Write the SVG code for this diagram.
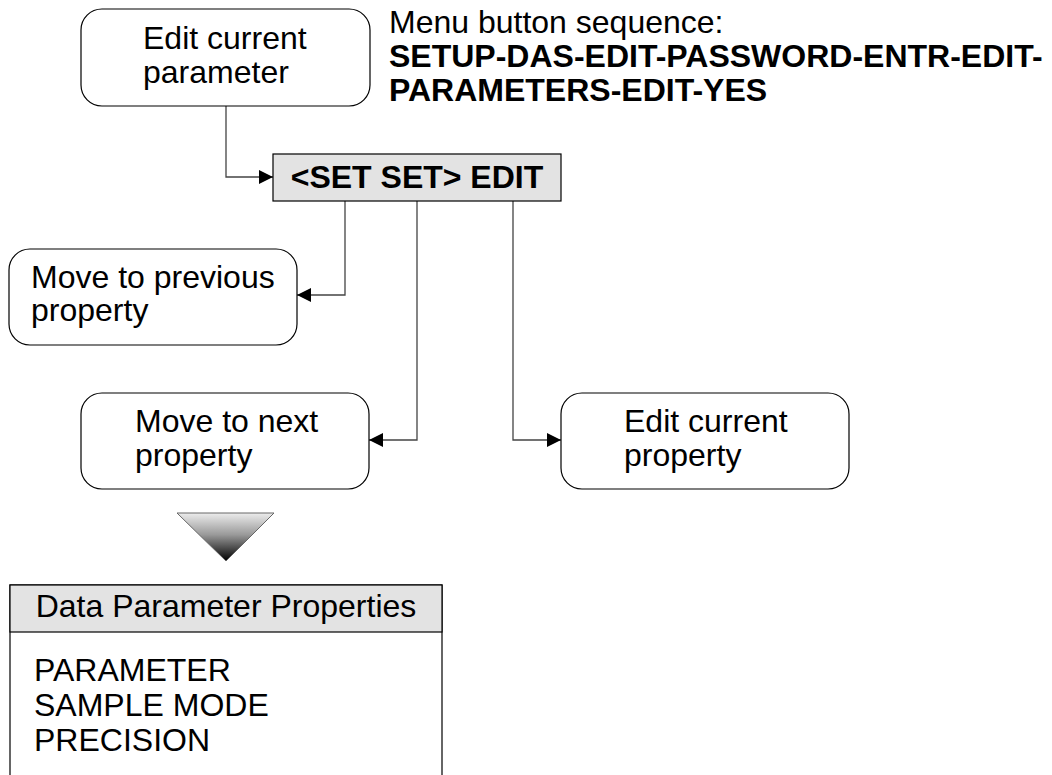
<svg xmlns="http://www.w3.org/2000/svg" width="1052" height="775" viewBox="0 0 1052 775">
<style>
text{font-family:"Liberation Sans",Arial,sans-serif;font-size:32px;fill:#000}
.b{font-weight:bold}
.node{fill:#fff;stroke:#000;stroke-width:1.2}
.gray{fill:#e3e3e3;stroke:#000;stroke-width:1.2}
.conn{fill:none;stroke:#444;stroke-width:1.3}
</style>
<defs>
<marker id="arr" viewBox="0 0 14 14" refX="14" refY="7" markerWidth="14" markerHeight="14" markerUnits="userSpaceOnUse" orient="auto">
<path d="M0,0 L14,7 L0,14 Z" fill="#000"/>
</marker>
<linearGradient id="tri" x1="0" y1="0" x2="0" y2="1">
<stop offset="0" stop-color="#ececec"/>
<stop offset="0.45" stop-color="#9a9a9a"/>
<stop offset="1" stop-color="#000"/>
</linearGradient>
</defs>
<rect width="1052" height="775" fill="#fff"/>

<g id="connectors">
<path class="conn" d="M226,106 V177 H273" marker-end="url(#arr)"/>
<path class="conn" d="M345,201 V295 H297" marker-end="url(#arr)"/>
<path class="conn" d="M417,201 V440 H369" marker-end="url(#arr)"/>
<path class="conn" d="M513,201 V440 H561" marker-end="url(#arr)"/>
</g>

<g id="edit-parameter">
<rect class="node" x="81" y="9" width="289" height="97" rx="21"/>
<text x="143" y="49">Edit current</text>
<text x="143" y="83">parameter</text>
</g>

<g id="menu-sequence">
<text x="389" y="33">Menu button sequence:</text>
<text class="b" x="389" y="67">SETUP-DAS-EDIT-PASSWORD-ENTR-EDIT-</text>
<text class="b" x="389" y="101">PARAMETERS-EDIT-YES</text>
</g>

<g id="set-edit">
<rect class="gray" x="273" y="154" width="288" height="47"/>
<text class="b" x="417" y="188" text-anchor="middle">&lt;SET SET&gt; EDIT</text>
</g>

<g id="prev-property">
<rect class="node" x="9" y="249" width="288" height="96" rx="21"/>
<text x="31" y="288">Move to previous</text>
<text x="31" y="321">property</text>
</g>

<g id="next-property">
<rect class="node" x="81" y="393" width="288" height="96" rx="21"/>
<text x="135" y="432">Move to next</text>
<text x="135" y="466">property</text>
</g>

<g id="edit-property">
<rect class="node" x="561" y="393" width="288" height="96" rx="21"/>
<text x="624" y="432">Edit current</text>
<text x="624" y="466">property</text>
</g>

<g id="down-triangle">
<polygon points="177,513 274,513 226,561" fill="url(#tri)" stroke="#666" stroke-width="1"/>
</g>

<g id="properties-table">
<rect class="node" x="10" y="585" width="432" height="200"/>
<rect class="gray" x="10" y="585" width="432" height="47"/>
<text x="226" y="617" text-anchor="middle">Data Parameter Properties</text>
<text x="34" y="681">PARAMETER</text>
<text x="34" y="716">SAMPLE MODE</text>
<text x="34" y="751">PRECISION</text>
</g>
</svg>
